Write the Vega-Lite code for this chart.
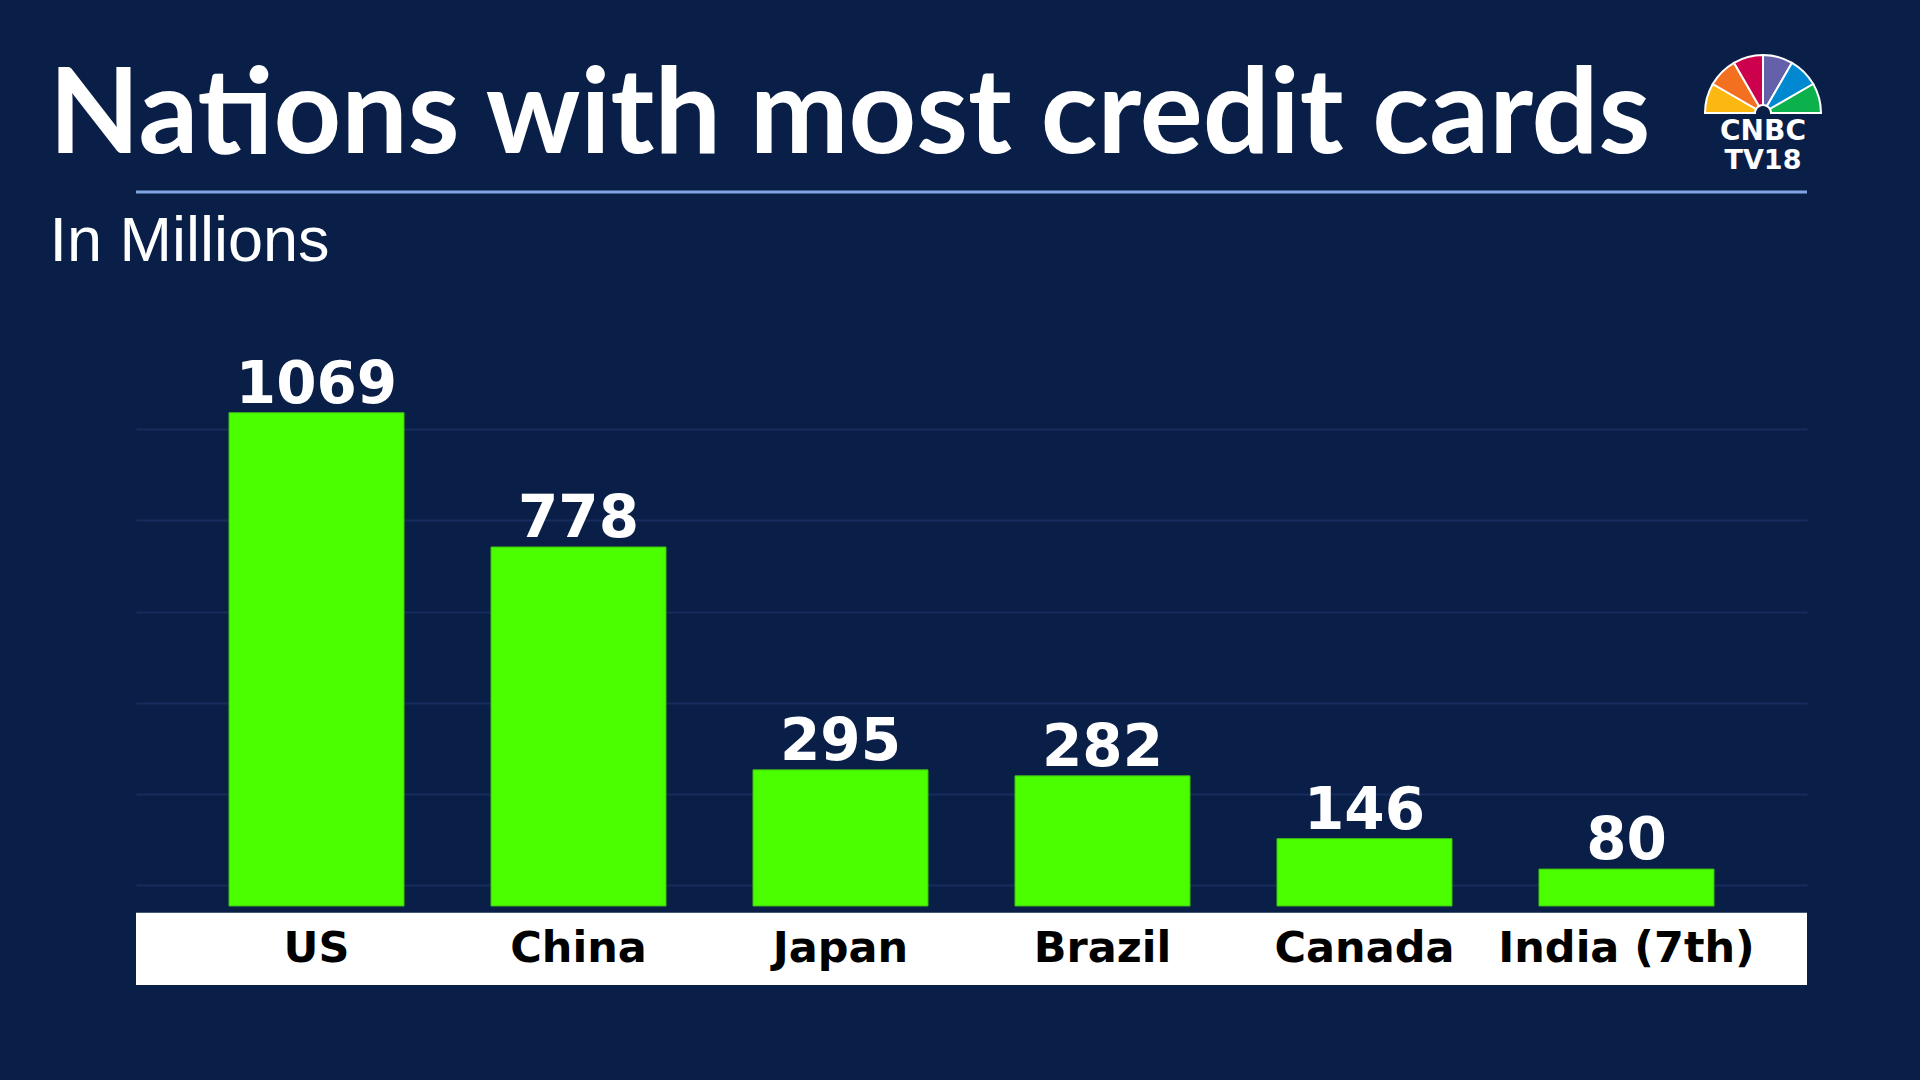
{
  "$schema": "https://vega.github.io/schema/vega-lite/v6.json",
  "width": 1671,
  "height": 793,
  "autosize": "none",
  "padding": {"left": 136, "top": 192, "right": 113, "bottom": 95},
  "background": "#0a1f48",
  "config": {"view": {"stroke": null}},
  "title": {
    "text": "Nations with most credit cards",
    "anchor": "start",
    "frame": "group",
    "dx": -87,
    "offset": -127,
    "baseline": "top",
    "font": "Lato",
    "fontSize": 118,
    "fontWeight": "bold",
    "color": "#ffffff"
  },
  "data": {
    "values": [
      {"country": "US", "value": 1069},
      {"country": "China", "value": 778},
      {"country": "Japan", "value": 295},
      {"country": "Brazil", "value": 282},
      {"country": "Canada", "value": 146},
      {"country": "India (7th)", "value": 80}
    ]
  },
  "encoding": {
    "x": {
      "field": "country",
      "type": "nominal",
      "sort": null,
      "scale": {"paddingInner": 0.332, "paddingOuter": 0.355},
      "axis": null
    }
  },
  "layer": [
    {
      "mark": {"type": "bar", "color": "#4cff00", "stroke": "#3fbf10", "strokeWidth": 1},
      "encoding": {
        "y": {
          "field": "value",
          "type": "quantitative",
          "scale": {"domain": [-171.2, 1547.3], "nice": false, "zero": false},
          "axis": {
            "title": "In Millions",
            "titleAngle": 0,
            "titleAlign": "left",
            "titleBaseline": "alphabetic",
            "titleX": -87,
            "titleY": 68,
            "titleFont": "Liberation Sans",
            "titleFontSize": 63,
            "titleFontWeight": "normal",
            "titleColor": "#ffffff",
            "labels": false,
            "ticks": false,
            "domain": false,
            "grid": true,
            "gridColor": "#172c5c",
            "gridWidth": 2,
            "values": [45.5, 243.1, 440.8, 638.2, 836.5, 1033.7]
          }
        }
      }
    },
    {
      "mark": {
        "type": "text",
        "baseline": "alphabetic",
        "dy": -10,
        "font": "DejaVu Sans",
        "fontSize": 58,
        "fontWeight": "bold",
        "color": "#ffffff"
      },
      "encoding": {
        "y": {"field": "value", "type": "quantitative"},
        "text": {"field": "value", "type": "quantitative"}
      }
    },
    {
      "data": {"values": [{}]},
      "mark": {"type": "rect", "color": "#ffffff"},
      "encoding": {
        "x": null,
        "y": {"datum": -14.5},
        "y2": {"datum": -171.2}
      }
    },
    {
      "mark": {
        "type": "text",
        "baseline": "alphabetic",
        "font": "DejaVu Sans",
        "fontSize": 43,
        "fontWeight": "bold",
        "color": "#000000"
      },
      "encoding": {
        "y": {"datum": -122.4},
        "text": {"field": "country", "type": "nominal"}
      }
    },
    {
      "data": {"values": [{}]},
      "mark": {"type": "rule", "color": "#7fa6e0", "strokeWidth": 3},
      "encoding": {
        "x": null,
        "y": {"datum": 1547.3}
      }
    },
    {
      "data": {
        "values": [
          {"feather": "amber"},
          {"feather": "copper"},
          {"feather": "crimson"},
          {"feather": "indigo"},
          {"feather": "ocean"},
          {"feather": "spring"}
        ]
      },
      "mark": {
        "type": "arc",
        "outerRadius": 58,
        "innerRadius": 8,
        "stroke": "#ffffff",
        "strokeWidth": 2
      },
      "encoding": {
        "x": {"datum": "India (7th)", "bandPosition": 1.28},
        "y": {"datum": 1718.5},
        "theta": {
          "aggregate": "count",
          "type": "quantitative",
          "scale": {"range": [-1.5708, 1.5708]}
        },
        "color": {
          "field": "feather",
          "type": "nominal",
          "scale": {
            "domain": ["amber", "copper", "crimson", "indigo", "ocean", "spring"],
            "range": ["#fcb711", "#f37021", "#cc004c", "#6460aa", "#0089d0", "#0db14b"]
          },
          "legend": null
        }
      }
    },
    {
      "data": {"values": [{}]},
      "mark": {
        "type": "text",
        "baseline": "alphabetic",
        "align": "center",
        "font": "DejaVu Sans",
        "fontSize": 28,
        "fontWeight": "bold",
        "color": "#ffffff"
      },
      "encoding": {
        "x": {"datum": "India (7th)", "bandPosition": 1.28},
        "y": {"datum": 1659.9},
        "text": {"value": "CNBC"}
      }
    },
    {
      "data": {"values": [{}]},
      "mark": {
        "type": "text",
        "baseline": "alphabetic",
        "align": "center",
        "font": "DejaVu Sans",
        "fontSize": 27,
        "fontWeight": "bold",
        "color": "#ffffff"
      },
      "encoding": {
        "x": {"datum": "India (7th)", "bandPosition": 1.28},
        "y": {"datum": 1597.1},
        "text": {"value": "TV18"}
      }
    }
  ]
}
